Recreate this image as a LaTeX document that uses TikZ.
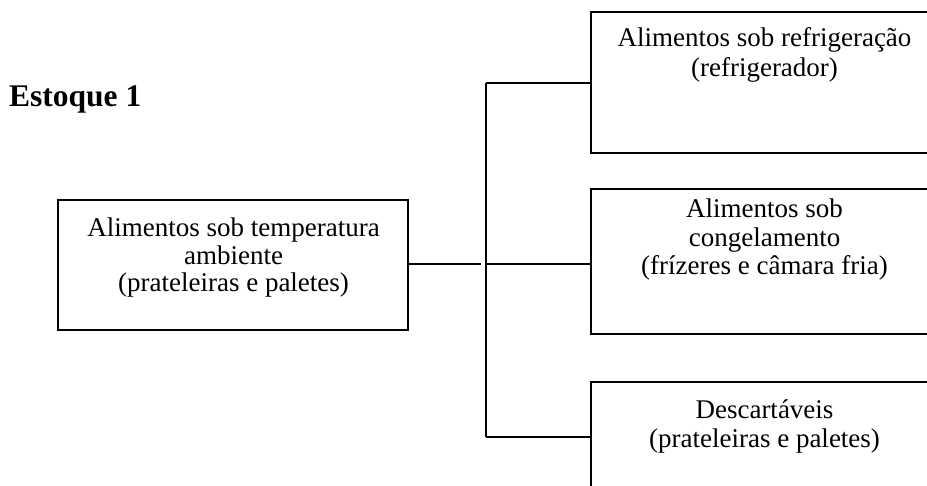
\documentclass[tikz,border=0pt]{standalone}
\usepackage{fontspec}
\setmainfont{Liberation Serif}
\begin{document}
\begin{tikzpicture}[x=1pt,y=-1pt,
  box/.style={draw=black, line width=2.2pt, inner sep=0pt, outer sep=0pt},
  lbl/.style={anchor=base, inner sep=0pt, font=\fontsize{27}{28}\selectfont},
  conn/.style={draw=black, line width=2.2pt}]
\useasboundingbox (0,0) rectangle (927,486);
\clip (0,0) rectangle (927,486);
% title
\node[anchor=base west, inner sep=0pt, font=\fontsize{31.5}{33}\selectfont\bfseries] (title) at (9,107) {Estoque 1};
% left box
\node[box, minimum width=350pt, minimum height=130pt] (L) at (233,265) {};
\node[lbl] (L1) at (233.5,237) {Alimentos sob temperatura};
\node[lbl] (L2) at (233.5,264.5) {ambiente};
\node[lbl] (L3) at (233.5,292) {(prateleiras e paletes)};
% right boxes
\node[box, minimum width=347pt, minimum height=141pt] (R1) at (764.5,82.5) {};
\node[lbl] (R1a) at (764.5,47) {Alimentos sob refrigeração};
\node[lbl] (R1b) at (764.5,77) {(refrigerador)};
\node[box, minimum width=347pt, minimum height=145pt] (R2) at (764.5,261.5) {};
\node[lbl] (R2a) at (764.5,218) {Alimentos sob};
\node[lbl] (R2b) at (764.5,246.5) {congelamento};
\node[lbl] (R2c) at (764.5,275) {(frízeres e câmara fria)};
\node[box, minimum width=347pt, minimum height=145pt] (R3) at (764.5,454.5) {};
\node[lbl] (R3a) at (764.5,418) {Descartáveis};
\node[lbl] (R3b) at (764.5,447) {(prateleiras e paletes)};
% connectors
\coordinate (Lend) at (481,264);
\coordinate (T1) at (486,83);
\coordinate (T2) at (486,264);
\coordinate (T3) at (486,437);
\draw[conn] (L.east |- Lend) -- (Lend);
\draw[conn] (T1) -- (T3);
\draw[conn] (T1) -- (R1.west |- T1);
\draw[conn] (T2) -- (R2.west |- T2);
\draw[conn] (T3) -- (R3.west |- T3);
\end{tikzpicture}
\end{document}
